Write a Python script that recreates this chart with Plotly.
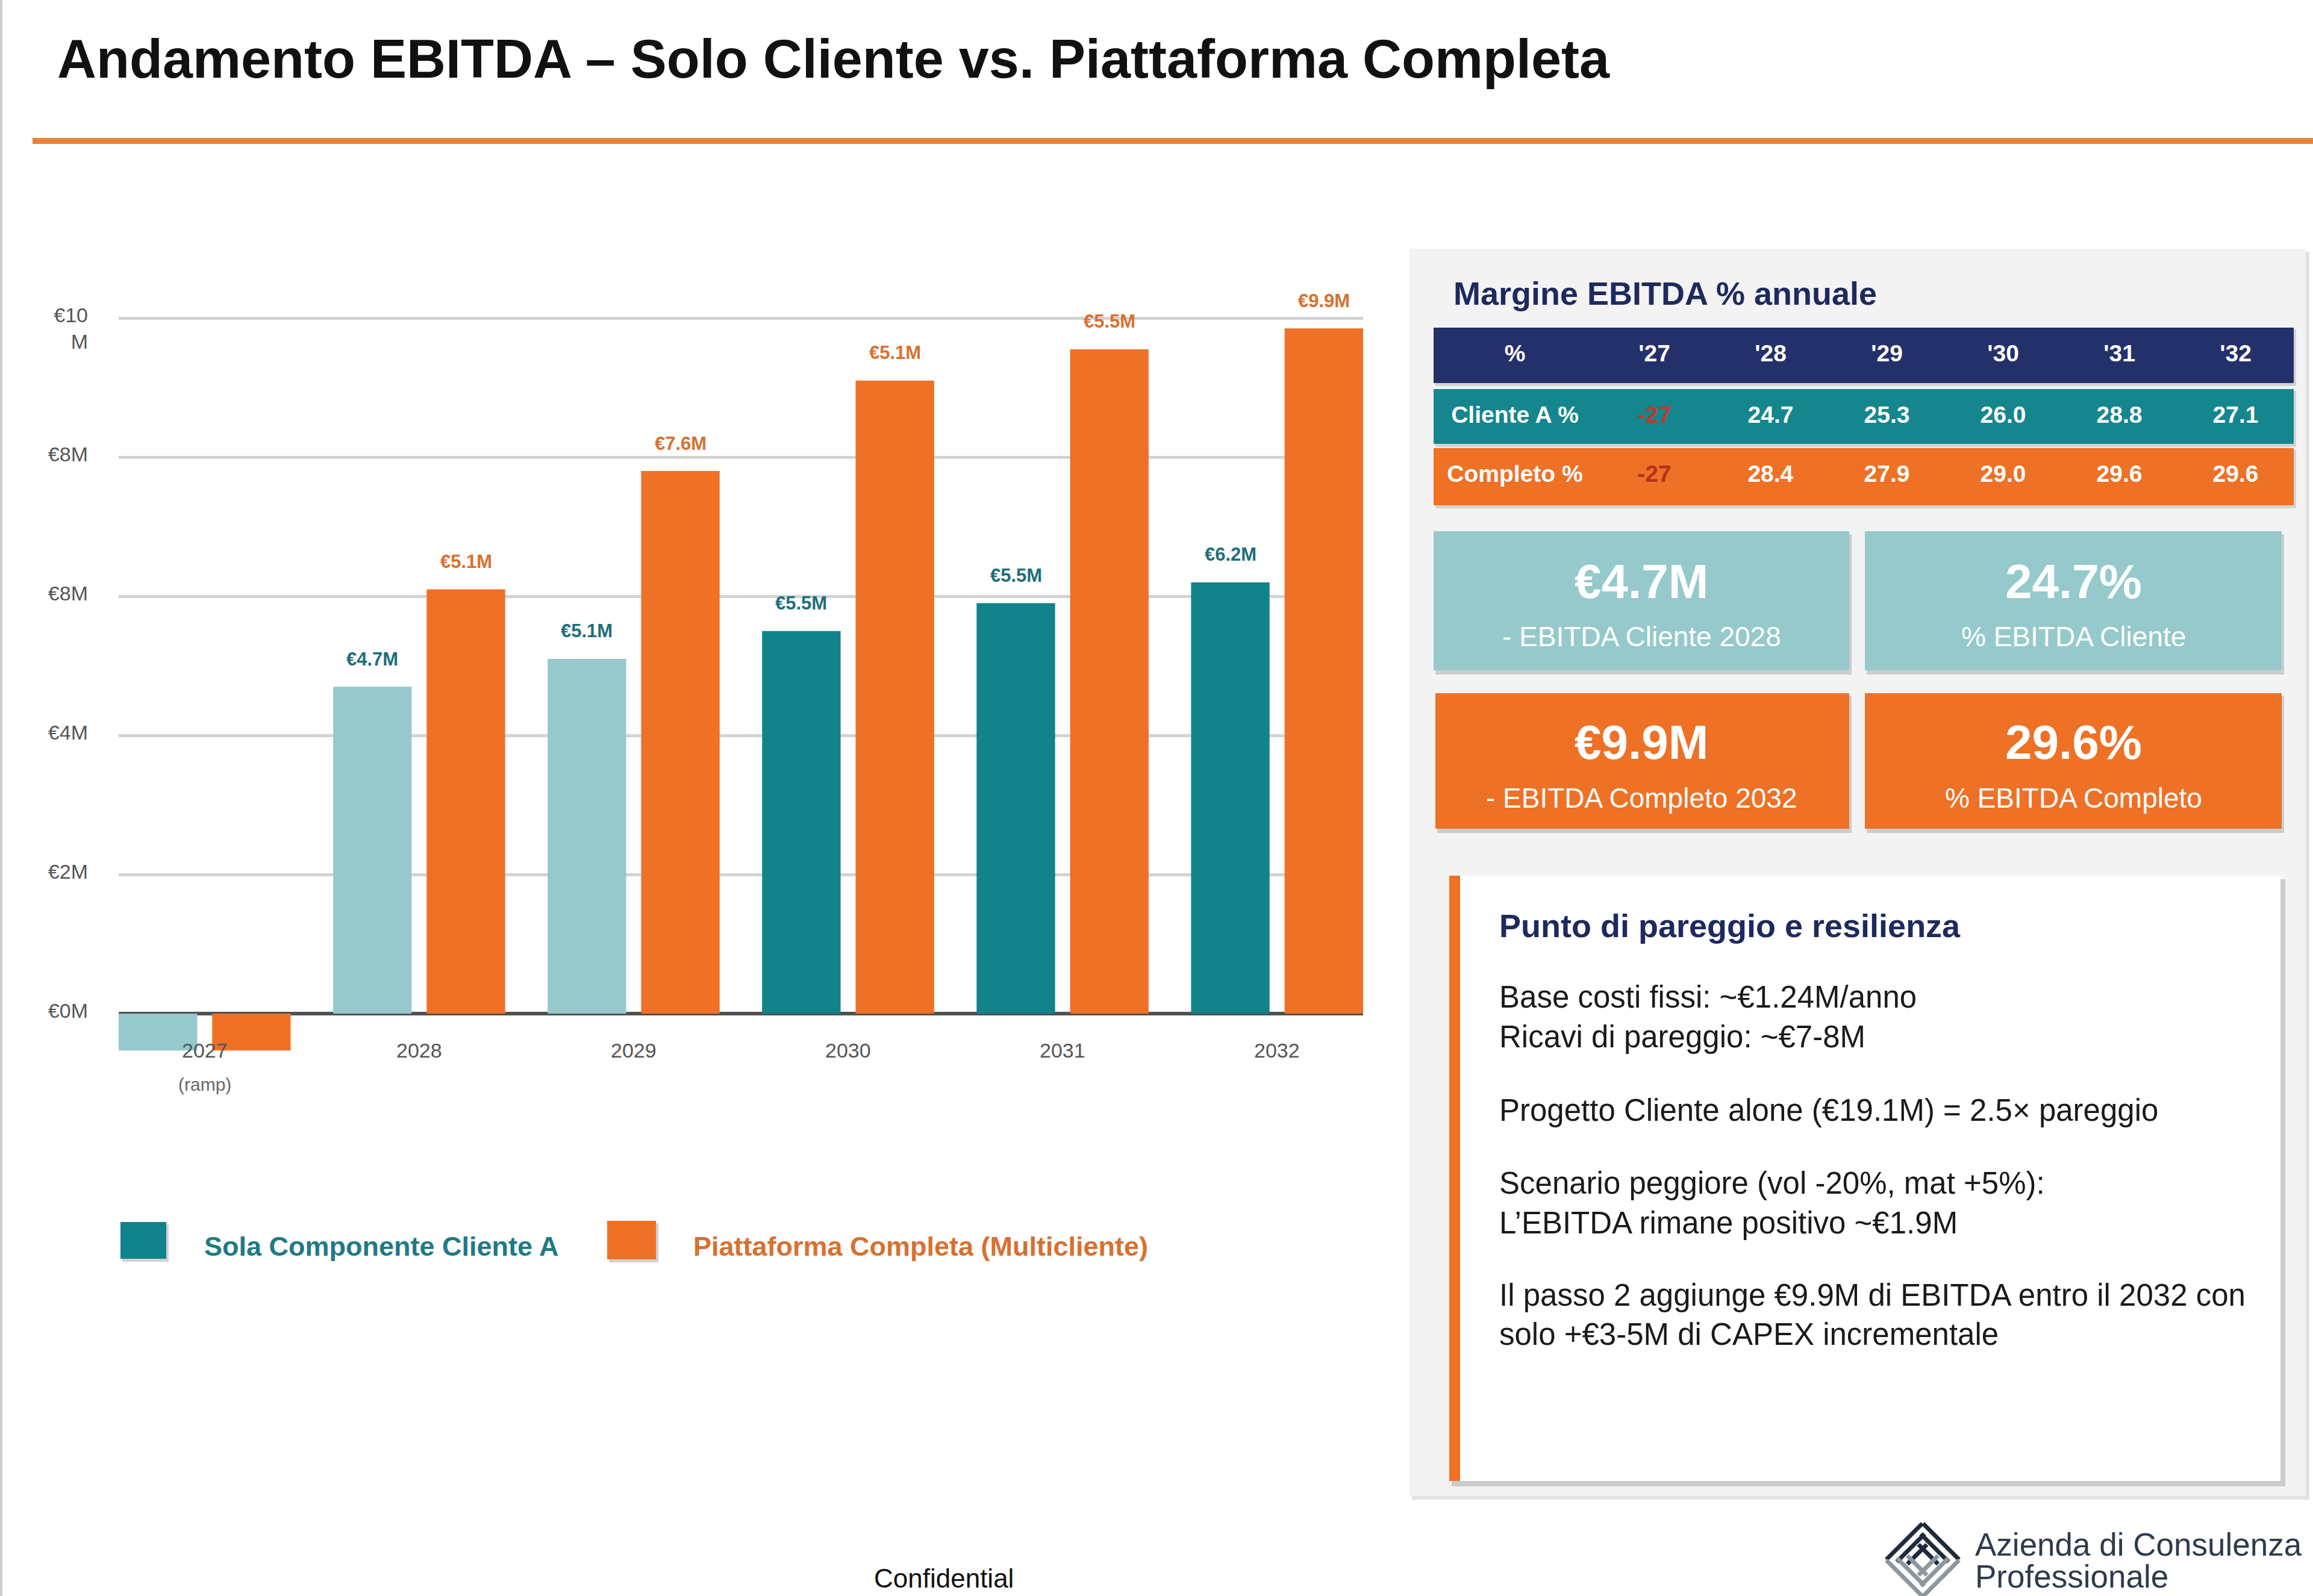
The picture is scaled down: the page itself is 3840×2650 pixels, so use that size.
import math
import plotly.graph_objects as go

W, H = 3840, 2650


def fx(x):
    return x / W


def fy(y):
    return 1 - y / H


# ---------------- data ----------------
years = ["2027", "2028", "2029", "2030", "2031", "2032"]
year_sub = ["(ramp)", "", "", "", "", ""]
cliente_vals = [-0.53, 4.7, 5.1, 5.5, 5.9, 6.2]
completa_vals = [-0.53, 6.1, 7.8, 9.1, 9.55, 9.85]
cliente_labels = ["", "€4.7M", "€5.1M", "€5.5M", "€5.5M", "€6.2M"]
completa_labels = ["", "€5.1M", "€7.6M", "€5.1M", "€5.5M", "€9.9M"]
y_tickvals = [0, 2, 4, 6, 8, 10]
y_ticktext = ["€0M", "€2M", "€4M", "€8M", "€8M", " <br>€10<br>M"]
series_names = ["Sola Componente Cliente A", "Piattaforma Completa (Multicliente)"]

table_header = ["%", "'27", "'28", "'29", "'30", "'31", "'32"]
cliente_pct = ["Cliente A %", "-27", "24.7", "25.3", "26.0", "28.8", "27.1"]
completo_pct = ["Completo %", "-27", "28.4", "27.9", "29.0", "29.6", "29.6"]

kpi_values = ["€4.7M", "24.7%", "€9.9M", "29.6%"]
kpi_labels = ["- EBITDA Cliente 2028", "% EBITDA Cliente",
              "- EBITDA Completo 2032", "% EBITDA Completo"]

notes_title = "Punto di pareggio e resilienza"
notes = [
    "Base costi fissi: ~€1.24M/anno",
    "Ricavi di pareggio: ~€7-8M",
    "Progetto Cliente alone (€19.1M) = 2.5× pareggio",
    "Scenario peggiore (vol -20%, mat +5%):",
    "L’EBITDA rimane positivo ~€1.9M",
    "Il passo 2 aggiunge €9.9M di EBITDA entro il 2032 con",
    "solo +€3-5M di CAPEX incrementale",
]

# ---------------- styles ----------------
FONT = "Liberation Sans, Arial, sans-serif"
TEAL_LIGHT = "#95C9CB"
TEAL_DARK = "#12828B"
ORANGE = "#EE7126"
NAVY = "#24306A"
TEAL_ROW = "#15868E"
TEAL_TXT = "#1D6E7A"
ORANGE_TXT = "#D9702F"

teal_colors = [TEAL_LIGHT, TEAL_LIGHT, TEAL_LIGHT, TEAL_DARK, TEAL_DARK, TEAL_DARK]
xs = list(range(len(years)))
OFF_A, OFF_B, BW = -0.401, 0.035, 0.366

fig = go.Figure()
fig.add_trace(go.Bar(x=xs, y=cliente_vals, offset=OFF_A, width=BW,
                     marker=dict(color=teal_colors, line=dict(width=0)),
                     name=series_names[0], showlegend=False, hoverinfo="skip"))
fig.add_trace(go.Bar(x=xs, y=completa_vals, offset=OFF_B, width=BW,
                     marker=dict(color=ORANGE, line=dict(width=0)),
                     name=series_names[1], showlegend=False, hoverinfo="skip"))

shapes = []


def rect(x0, y0, x1, y1, color, layer="below"):
    shapes.append(dict(type="rect", xref="paper", yref="paper",
                       x0=fx(x0), x1=fx(x1), y0=fy(y1), y1=fy(y0),
                       fillcolor=color, line=dict(width=0), layer=layer))


def seg(x0, y0, x1, y1, color, w):
    shapes.append(dict(type="line", xref="paper", yref="paper",
                       x0=fx(x0), x1=fx(x1), y0=fy(y0), y1=fy(y1),
                       line=dict(color=color, width=w)))


# page edge + title rule
rect(0, 0, 4, H, "#D0D0D0")
rect(54, 229, W, 239, "#E9833A")
# right panel
rect(2344, 418, 3834, 2490, "#E2E2E2")
rect(2340, 413, 3828, 2484, "#F3F3F3")

# ---------- margin table: one table per row, for the gaps ----------
rows = [
    (table_header, NAVY, ["white"] * 7, 544, 636),
    (cliente_pct, TEAL_ROW, ["white", "#C0392B"] + ["white"] * 5, 646, 737),
    (completo_pct, ORANGE, ["white", "#B5301C"] + ["white"] * 5, 744, 839),
]
TXT_DROP = 13
for vals, fill, fcolors, y0, y1 in rows:
    rect(2383, y0 + 3, 3812, y1 + 5, "rgba(0,0,0,0.13)")
    rect(2380, y0, 3808, y1, fill)
    fig.add_trace(go.Table(
        domain=dict(x=[fx(2380), fx(3808)], y=[fy(y1 + TXT_DROP), fy(y0 + TXT_DROP)]),
        columnwidth=[270, 193, 193, 193, 193, 193, 193],
        header=dict(values=["<b>%s</b>" % v for v in vals],
                    fill=dict(color="rgba(0,0,0,0)"),
                    line=dict(color="rgba(0,0,0,0)", width=0),
                    align="center", height=y1 - y0 - 1,
                    font=dict(family=FONT, size=39, color=fcolors)),
        cells=dict(values=[[] for _ in vals]),
    ))

# KPI boxes
kpi_boxes = [(2380, 882, 3070, 1113, TEAL_LIGHT), (3096, 882, 3788, 1113, TEAL_LIGHT),
             (2383, 1151, 3070, 1376, ORANGE), (3096, 1151, 3788, 1376, ORANGE)]
for x0, y0, x1, y1, c in kpi_boxes:
    rect(x0 + 3, y0 + 5, x1 + 4, y1 + 7, "rgba(0,0,0,0.16)")
    rect(x0, y0, x1, y1, c)
# notes card
rect(2410, 1460, 3794, 2468, "rgba(0,0,0,0.16)")
rect(2406, 1454, 3786, 2459, "#FFFFFF")
rect(2406, 1454, 2424, 2459, ORANGE)
# legend squares
rect(203, 2033, 280, 2095, "rgba(0,0,0,0.18)")
rect(200, 2029, 276, 2090, TEAL_DARK)
rect(1011, 2031, 1093, 2096, "rgba(0,0,0,0.18)")
rect(1008, 2027, 1089, 2091, ORANGE)

# logo icon: four groups of stripes forming a diamond
cx, cy, h = 3192, 2590, 68


def stripe_group(p0, p1, color):
    mx, my = (p0[0] + p1[0]) / 2, (p0[1] + p1[1]) / 2
    nx, ny = cx - mx, cy - my
    n = math.hypot(nx, ny)
    nx, ny = nx / n, ny / n
    for k in range(3):
        d = 5 + k * 15
        shrink = 0.06 + k * 0.1
        ax = p0[0] + (p1[0] - p0[0]) * shrink + nx * d
        ay = p0[1] + (p1[1] - p0[1]) * shrink + ny * d
        bx = p1[0] - (p1[0] - p0[0]) * shrink + nx * d
        by = p1[1] - (p1[1] - p0[1]) * shrink + ny * d
        seg(ax, ay, bx, by, color, 7)


L, T, R, B = (cx - h, cy), (cx, cy - h), (cx + h, cy), (cx, cy + h)
stripe_group(L, T, "#1F2B3A")
stripe_group(T, R, "#1F2B3A")
stripe_group(R, B, "#8C979F")
stripe_group(B, L, "#8C979F")

# ---------------- annotations ----------------
ann = []


def text(x, y, s, size, color="#222222", bold=False, xanchor="left", yanchor="middle"):
    ann.append(dict(x=fx(x), y=fy(y), xref="paper", yref="paper", text=s,
                    showarrow=False, xanchor=xanchor, yanchor=yanchor,
                    font=dict(family=FONT, size=size, color=color,
                              weight="bold" if bold else "normal")))


text(93, 98, "Andamento EBITDA – Solo Cliente vs. Piattaforma Completa", 90, "#111111", True)

# bar value labels
for i, (va, la, vb, lb) in enumerate(zip(cliente_vals, cliente_labels, completa_vals, completa_labels)):
    if la:
        ann.append(dict(x=i + OFF_A + BW / 2, y=va, xref="x", yref="y", text=la,
                        showarrow=False, yshift=46, yanchor="middle",
                        font=dict(family=FONT, size=31, color=TEAL_TXT, weight="bold")))
    if lb:
        ann.append(dict(x=i + OFF_B + BW / 2, y=vb, xref="x", yref="y", text=lb,
                        showarrow=False, yshift=46, yanchor="middle",
                        font=dict(family=FONT, size=31, color=ORANGE_TXT, weight="bold")))
# category labels
for i, (yr, sub) in enumerate(zip(years, year_sub)):
    ann.append(dict(x=i, y=-0.53, xref="x", yref="y", text=yr, showarrow=False,
                    font=dict(family=FONT, size=34, color="#555555")))
    if sub:
        ann.append(dict(x=i, y=-1.02, xref="x", yref="y", text=sub, showarrow=False,
                        font=dict(family=FONT, size=30, color="#666666")))

# legend text
text(337, 2069, series_names[0], 45, "#1F7A85", True)
text(1149, 2069, series_names[1], 45, ORANGE_TXT, True)

# panel texts
text(2411, 487, "Margine EBITDA % annuale", 54, "#1E2A5E", True)
kpi_centres = [(2725, 966, 1057), (3442, 966, 1057), (2725, 1233, 1325), (3442, 1233, 1325)]
for (kx, vy, ly), v, l in zip(kpi_centres, kpi_values, kpi_labels):
    text(kx, vy, v, 80, "#FFFFFF", True, "center")
    text(kx, ly, l, 46, "#FFFFFF", False, "center")

text(2487, 1537, notes_title, 54, "#1E2A5E", True)
note_y = [1655, 1721, 1843, 1965, 2030, 2150, 2215]
for s, yy in zip(notes, note_y):
    text(2487, yy, s, 51, "#1A1A1A")

text(1567, 2620, "Confidential", 44, "#111111", False, "center")
text(3277, 2564, "Azienda di Consulenza", 53, "#2E3B4B")
text(3277, 2617, "Professionale", 53, "#2E3B4B")

# ---------------- layout ----------------
zero_px, per_m = 1683, 115.5
y_lo, y_hi = -1.2, 10.6
fig.update_layout(
    width=W, height=H, margin=dict(l=0, r=0, t=0, b=0),
    paper_bgcolor="white", plot_bgcolor="rgba(0,0,0,0)",
    barmode="overlay", showlegend=False,
    font=dict(family=FONT),
    xaxis=dict(domain=[fx(197), fx(2263)], range=[OFF_A, len(years) - 1 + OFF_B + BW],
               showgrid=False, zeroline=False, showticklabels=False, showline=False,
               fixedrange=True),
    yaxis=dict(domain=[fy(zero_px - y_lo * per_m), fy(zero_px - y_hi * per_m)],
               range=[y_lo, y_hi], tickvals=y_tickvals, ticktext=y_ticktext,
               showgrid=True, gridcolor="#D3D3D3", gridwidth=5,
               zeroline=True, zerolinecolor="#505050", zerolinewidth=6,
               tickfont=dict(family=FONT, size=34, color="#555555"),
               ticklabelstandoff=50, ticklabelshift=-5, showline=False, fixedrange=True),
    shapes=shapes, annotations=ann,
)

fig.write_html("out.html")
